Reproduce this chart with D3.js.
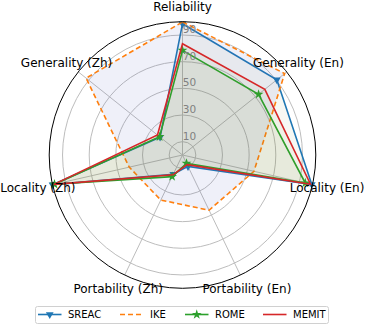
<!DOCTYPE html>
<html>
<head>
<meta charset="utf-8">
<script src="https://cdn.jsdelivr.net/npm/d3@7"></script>
<style>
  body { margin: 0; background: #fff; }
  text { font-family: "DejaVu Sans", sans-serif; }
</style>
</head>
<body>
<svg id="canvas" width="366" height="327"></svg>
<script>
const axes_names = [
    "Reliability",
    "Generality (En)",
    "Locality (En)",
    "Portability (En)",
    "Portability (Zh)",
    "Locality (Zh)",
    "Generality (Zh)"
];
const ring_ticks = [10, 30, 50, 70, 90];

const methods = ["SREAC", "IKE", "ROME", "MEMIT"];
const sreac_vals = [98.5, 90.5, 99.5, 9.5, 16, 100, 21.5];
const ike_vals   = [99.8, 98, 55, 46, 37.5, 41, 92.5];
const rome_vals  = [78.5, 73, 94.5, 7, 18, 98.5, 22];
const memit_vals = [83.5, 79, 98.5, 8, 16.5, 99, 24];

const line_colors = ["#1f77b4", "#ff7f0e", "#2ca02c", "#d62728"];
const fill_colors = ["rgba(110,130,40,0.055)", "rgba(80,90,190,0.09)", "rgba(110,130,40,0.055)", "rgba(110,130,40,0.055)"];
const dashes = [null, "5,3", null, null];
const markers = [d3.symbolTriangle, null, d3.symbolStar, null];

const all_vals = [sreac_vals, ike_vals, rome_vals, memit_vals];

const cx = 182.5, cy = 155, R = 133.3;

const svg = d3.select("svg#canvas");
const g = svg.append("g").attr("transform", `translate(${cx},${cy})`);

const r = d3.scaleLinear().domain([0, 100]).range([0, R]);
const ang = d3.scaleLinear().domain([0, axes_names.length]).range([0, 2 * Math.PI]);

// rings
g.selectAll("circle.ring")
    .data(ring_ticks)
    .join("circle")
    .attr("class", "ring")
    .attr("r", d => r(d))
    .attr("fill", "none")
    .attr("stroke", "#bdbdbd")
    .attr("stroke-width", 1);

// spokes
g.selectAll("line.spoke")
    .data(axes_names)
    .join("line")
    .attr("class", "spoke")
    .attr("x1", 0).attr("y1", 0)
    .attr("x2", (_, i) => d3.pointRadial(ang(i), r(100))[0])
    .attr("y2", (_, i) => d3.pointRadial(ang(i), r(100))[1])
    .attr("stroke", "#bdbdbd")
    .attr("stroke-width", 1);

const radar = d3.lineRadial()
    .angle((_, i) => ang(i))
    .radius(d => r(d))
    .curve(d3.curveLinearClosed);

// polygons
methods.forEach((m, k) => {
    g.append("path")
        .datum(all_vals[k])
        .attr("d", radar)
        .attr("fill", fill_colors[k])
        .attr("stroke", line_colors[k])
        .attr("stroke-width", 1.6)
        .attr("stroke-dasharray", dashes[k]);
    if (markers[k]) {
        g.selectAll("path.mk" + k)
            .data(all_vals[k])
            .join("path")
            .attr("class", "mk" + k)
            .attr("d", d3.symbol().type(markers[k]).size(k == 0 ? 26 : 30))
            .attr("transform", (d, i) => {
                const p = d3.pointRadial(ang(i), r(d));
                return `translate(${p[0]},${p[1]})` + (k == 0 ? " rotate(180)" : "");
            })
            .attr("fill", line_colors[k]);
    }
});

// outer frame
g.append("circle")
    .attr("r", r(100))
    .attr("fill", "none")
    .attr("stroke", "#000")
    .attr("stroke-width", 1);

// ring labels
g.selectAll("text.rlab")
    .data(ring_ticks)
    .join("text")
    .attr("class", "rlab")
    .attr("x", 7)
    .attr("y", d => -r(d) - 6)
    .attr("text-anchor", "middle")
    .attr("dominant-baseline", "central")
    .attr("font-size", 10.5)
    .attr("fill", "#808080")
    .text(d => d);

// axis labels
g.selectAll("text.alab")
    .data(axes_names)
    .join("text")
    .attr("class", "alab")
    .attr("x", (_, i) => d3.pointRadial(ang(i), r(100) + 15)[0])
    .attr("y", (_, i) => d3.pointRadial(ang(i), r(100) + 15)[1])
    .attr("text-anchor", "middle")
    .attr("dominant-baseline", "central")
    .attr("font-size", 12)
    .attr("fill", "#000")
    .text(d => d);

// legend
const leg = svg.append("g");
leg.append("rect")
    .attr("x", 35.5).attr("y", 306.5)
    .attr("width", 293).attr("height", 17)
    .attr("rx", 2)
    .attr("fill", "#fff")
    .attr("stroke", "#d0d0d0");

const leg_x = [38, 120, 185, 263];
methods.forEach((m, k) => {
    const x0 = leg_x[k], y0 = 314.5;
    leg.append("line")
        .attr("x1", x0).attr("x2", x0 + 23.5)
        .attr("y1", y0).attr("y2", y0)
        .attr("stroke", line_colors[k])
        .attr("stroke-width", 1.6)
        .attr("stroke-dasharray", dashes[k]);
    if (markers[k]) {
        leg.append("path")
            .attr("d", d3.symbol().type(markers[k]).size(k == 0 ? 26 : 30))
            .attr("transform", `translate(${x0 + 11.75},${y0})` + (k == 0 ? " rotate(180)" : ""))
            .attr("fill", line_colors[k]);
    }
    leg.append("text")
        .attr("x", x0 + 30)
        .attr("y", y0)
        .attr("dominant-baseline", "central")
        .attr("font-size", 10)
        .attr("fill", "#000")
        .text(m);
});
</script>
</body>
</html>
